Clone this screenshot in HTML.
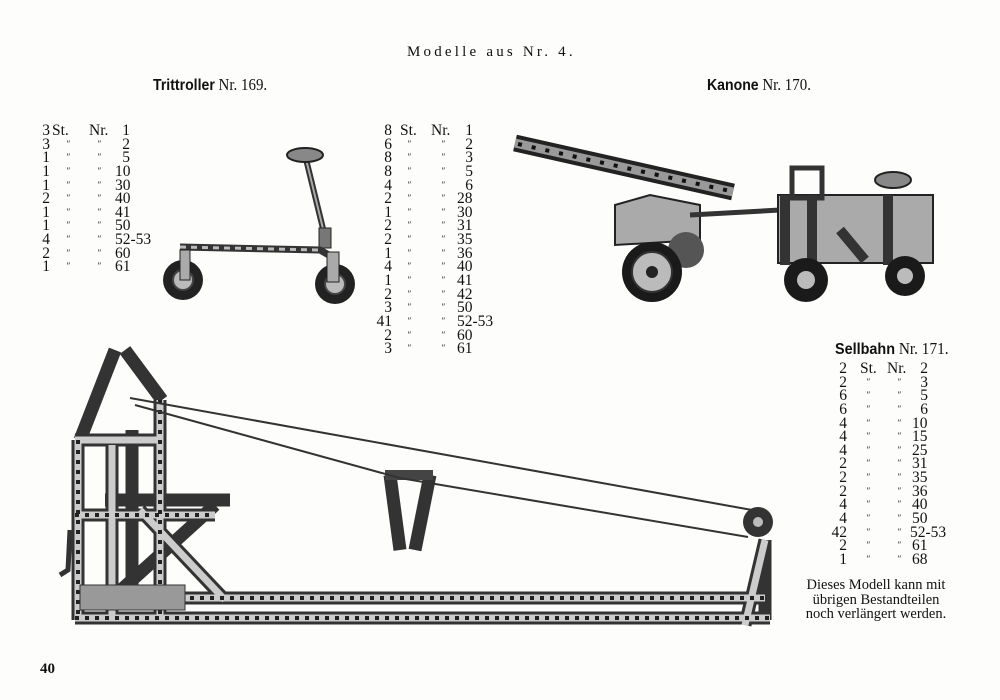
<!DOCTYPE html>
<html><head><meta charset="utf-8">
<style>
body{margin:0;background:#fff;}
#p{position:relative;width:1000px;height:700px;background:#fdfdfc;overflow:hidden;font-family:"Liberation Serif",serif;color:#111;}
.t{position:absolute;white-space:nowrap;}
.l{position:absolute;font-size:15.5px;line-height:13.65px;}
.l div{white-space:nowrap;height:13.65px;position:relative;}
.l span{position:absolute;top:0;}
.q{font-size:9px;font-style:italic;line-height:13px;}
svg{position:absolute;left:0;top:0;}
</style></head><body><div id="p">
<svg width="1000" height="700" viewBox="0 0 1000 700">
<g fill="none" stroke-linecap="butt">
<!-- scooter -->
<line x1="305" y1="155" x2="327" y2="245" stroke="#333" stroke-width="6"/>
<line x1="305" y1="155" x2="327" y2="245" stroke="#aaa" stroke-width="2"/>
<ellipse cx="305" cy="155" rx="18" ry="7" fill="#888" stroke="#222" stroke-width="2"/>
<rect x="319" y="228" width="12" height="20" fill="#777" stroke="#222"/>
<path d="M180 247 L320 250 L334 258" stroke="#333" stroke-width="7"/>
<path d="M180 247 L320 250" stroke="#bbb" stroke-width="3" stroke-dasharray="6 5"/>
<circle cx="183" cy="280" r="20" fill="#222"/><circle cx="183" cy="280" r="10" fill="#bbb" stroke="#444" stroke-width="2"/>
<circle cx="335" cy="284" r="20" fill="#222"/><circle cx="335" cy="284" r="10" fill="#bbb" stroke="#444" stroke-width="2"/>
<rect x="180" y="250" width="10" height="30" fill="#aaa" stroke="#222"/>
<rect x="327" y="252" width="12" height="30" fill="#aaa" stroke="#222"/>
<!-- cannon -->
<line x1="515" y1="143" x2="733" y2="192" stroke="#222" stroke-width="17"/>
<line x1="515" y1="143" x2="733" y2="192" stroke="#999" stroke-width="9"/>
<line x1="518" y1="144" x2="730" y2="191" stroke="#111" stroke-width="4" stroke-dasharray="4 10"/>
<path d="M615 205 L650 195 L700 205 L700 240 L615 245 Z" fill="#aaa" stroke="#222" stroke-width="2"/>
<line x1="690" y1="215" x2="780" y2="210" stroke="#333" stroke-width="5"/>
<circle cx="686" cy="250" r="18" fill="#555"/>
<circle cx="652" cy="272" r="30" fill="#1a1a1a"/><circle cx="652" cy="272" r="20" fill="#bbb" stroke="#333" stroke-width="2"/><circle cx="652" cy="272" r="6" fill="#222"/>
<rect x="778" y="195" width="155" height="68" fill="#aaa" stroke="#222" stroke-width="2"/>
<rect x="792" y="168" width="30" height="30" fill="none" stroke="#333" stroke-width="5"/>
<line x1="785" y1="195" x2="785" y2="265" stroke="#333" stroke-width="10"/>
<line x1="812" y1="195" x2="812" y2="265" stroke="#333" stroke-width="10"/>
<line x1="888" y1="195" x2="888" y2="265" stroke="#333" stroke-width="10"/>
<line x1="840" y1="230" x2="865" y2="260" stroke="#333" stroke-width="10"/>
<ellipse cx="893" cy="180" rx="18" ry="8" fill="#888" stroke="#222" stroke-width="2"/>
<circle cx="806" cy="280" r="22" fill="#1a1a1a"/><circle cx="806" cy="280" r="9" fill="#bbb"/>
<circle cx="905" cy="276" r="20" fill="#1a1a1a"/><circle cx="905" cy="276" r="8" fill="#bbb"/>
<!-- cable car -->
<g stroke="#333" stroke-width="13">
<line x1="78" y1="440" x2="78" y2="620"/>
<line x1="112" y1="445" x2="112" y2="620"/>
<line x1="132" y1="430" x2="132" y2="600"/>
<line x1="160" y1="400" x2="160" y2="620"/>
<line x1="115" y1="350" x2="80" y2="440"/>
<line x1="125" y1="350" x2="162" y2="400"/>
<line x1="75" y1="440" x2="160" y2="440"/>
<line x1="75" y1="515" x2="215" y2="515"/>
<line x1="105" y1="500" x2="230" y2="500"/>
<line x1="140" y1="510" x2="225" y2="600"/>
<line x1="215" y1="505" x2="110" y2="600"/>
<line x1="180" y1="598" x2="765" y2="598"/>
<line x1="75" y1="618" x2="770" y2="618"/>
<line x1="745" y1="625" x2="765" y2="540"/>
<line x1="765" y1="540" x2="765" y2="620"/>
<line x1="390" y1="475" x2="400" y2="550"/>
<line x1="430" y1="475" x2="415" y2="550"/>
</g>
<g stroke="#ccc" stroke-width="7">
<line x1="78" y1="440" x2="78" y2="620"/>
<line x1="112" y1="445" x2="112" y2="620"/>
<line x1="160" y1="400" x2="160" y2="620"/>
<line x1="75" y1="440" x2="160" y2="440"/>
<line x1="75" y1="515" x2="215" y2="515"/>
<line x1="140" y1="510" x2="225" y2="600"/>
<line x1="180" y1="598" x2="765" y2="598"/>
<line x1="75" y1="618" x2="770" y2="618"/>
<line x1="745" y1="625" x2="765" y2="540"/>
</g>
<g stroke="#222" stroke-width="4" stroke-dasharray="4 6">
<line x1="78" y1="440" x2="78" y2="620"/>
<line x1="160" y1="400" x2="160" y2="620"/>
<line x1="180" y1="598" x2="765" y2="598"/>
<line x1="75" y1="618" x2="770" y2="618"/>
<line x1="75" y1="515" x2="215" y2="515"/>
</g>
<rect x="80" y="585" width="105" height="25" fill="#999" stroke="#333"/>
<rect x="385" y="470" width="48" height="10" fill="#444"/>
<path d="M60 575 L68 570 L70 530" stroke="#333" stroke-width="5"/>
<line x1="130" y1="398" x2="752" y2="510" stroke="#333" stroke-width="2"/>
<path d="M135 405 L400 478 L748 537" stroke="#333" stroke-width="2"/>
<circle cx="758" cy="522" r="15" fill="#333"/><circle cx="758" cy="522" r="5" fill="#bbb"/>
</g>
</svg>

<div class="t" style="left:407px;top:44px;font-size:15px;letter-spacing:3.2px;">Modelle aus Nr. 4.</div>
<div class="t" style="left:153px;top:75px;font-size:17px;transform:scaleX(0.88);transform-origin:left;"><b style="font-family:'Liberation Sans',sans-serif;font-size:16px">Trittroller</b> Nr. 169.</div>
<div class="t" style="left:707px;top:75px;font-size:17px;transform:scaleX(0.88);transform-origin:left;"><b style="font-family:'Liberation Sans',sans-serif;font-size:16px">Kanone</b> Nr. 170.</div>
<div class="t" style="left:835px;top:339px;font-size:17px;transform:scaleX(0.9);transform-origin:left;"><b style="font-family:'Liberation Sans',sans-serif;font-size:16px">Sellbahn</b> Nr. 171.</div>

<div class="l" style="left:0;top:124px;width:200px;height:160px">
<div><span style="right:150px">3</span><span style="left:52px">St.</span><span style="left:89px">Nr.</span><span style="right:70px">1</span></div>
<div><span style="right:150px">3</span><span class="q" style="left:66px">″</span><span class="q" style="left:97px">″</span><span style="right:70px">2</span></div>
<div><span style="right:150px">1</span><span class="q" style="left:66px">″</span><span class="q" style="left:97px">″</span><span style="right:70px">5</span></div>
<div><span style="right:150px">1</span><span class="q" style="left:66px">″</span><span class="q" style="left:97px">″</span><span style="left:115px">10</span></div>
<div><span style="right:150px">1</span><span class="q" style="left:66px">″</span><span class="q" style="left:97px">″</span><span style="left:115px">30</span></div>
<div><span style="right:150px">2</span><span class="q" style="left:66px">″</span><span class="q" style="left:97px">″</span><span style="left:115px">40</span></div>
<div><span style="right:150px">1</span><span class="q" style="left:66px">″</span><span class="q" style="left:97px">″</span><span style="left:115px">41</span></div>
<div><span style="right:150px">1</span><span class="q" style="left:66px">″</span><span class="q" style="left:97px">″</span><span style="left:115px">50</span></div>
<div><span style="right:150px">4</span><span class="q" style="left:66px">″</span><span class="q" style="left:97px">″</span><span style="left:115px">52-53</span></div>
<div><span style="right:150px">2</span><span class="q" style="left:66px">″</span><span class="q" style="left:97px">″</span><span style="left:115px">60</span></div>
<div><span style="right:150px">1</span><span class="q" style="left:66px">″</span><span class="q" style="left:97px">″</span><span style="left:115px">61</span></div>
</div>

<div class="l" style="left:300px;top:124px;width:200px;height:240px">
<div><span style="right:108px">8</span><span style="left:100px">St.</span><span style="left:131px">Nr.</span><span style="right:27px">1</span></div>
<div><span style="right:108px">6</span><span class="q" style="left:107px">″</span><span class="q" style="left:141px">″</span><span style="right:27px">2</span></div>
<div><span style="right:108px">8</span><span class="q" style="left:107px">″</span><span class="q" style="left:141px">″</span><span style="right:27px">3</span></div>
<div><span style="right:108px">8</span><span class="q" style="left:107px">″</span><span class="q" style="left:141px">″</span><span style="right:27px">5</span></div>
<div><span style="right:108px">4</span><span class="q" style="left:107px">″</span><span class="q" style="left:141px">″</span><span style="right:27px">6</span></div>
<div><span style="right:108px">2</span><span class="q" style="left:107px">″</span><span class="q" style="left:141px">″</span><span style="left:157px">28</span></div>
<div><span style="right:108px">1</span><span class="q" style="left:107px">″</span><span class="q" style="left:141px">″</span><span style="left:157px">30</span></div>
<div><span style="right:108px">2</span><span class="q" style="left:107px">″</span><span class="q" style="left:141px">″</span><span style="left:157px">31</span></div>
<div><span style="right:108px">2</span><span class="q" style="left:107px">″</span><span class="q" style="left:141px">″</span><span style="left:157px">35</span></div>
<div><span style="right:108px">1</span><span class="q" style="left:107px">″</span><span class="q" style="left:141px">″</span><span style="left:157px">36</span></div>
<div><span style="right:108px">4</span><span class="q" style="left:107px">″</span><span class="q" style="left:141px">″</span><span style="left:157px">40</span></div>
<div><span style="right:108px">1</span><span class="q" style="left:107px">″</span><span class="q" style="left:141px">″</span><span style="left:157px">41</span></div>
<div><span style="right:108px">2</span><span class="q" style="left:107px">″</span><span class="q" style="left:141px">″</span><span style="left:157px">42</span></div>
<div><span style="right:108px">3</span><span class="q" style="left:107px">″</span><span class="q" style="left:141px">″</span><span style="left:157px">50</span></div>
<div><span style="right:108px">41</span><span class="q" style="left:107px">″</span><span class="q" style="left:141px">″</span><span style="left:157px">52-53</span></div>
<div><span style="right:108px">2</span><span class="q" style="left:107px">″</span><span class="q" style="left:141px">″</span><span style="left:157px">60</span></div>
<div><span style="right:108px">3</span><span class="q" style="left:107px">″</span><span class="q" style="left:141px">″</span><span style="left:157px">61</span></div>
</div>

<div class="l" style="left:800px;top:362px;width:200px;height:220px">
<div><span style="right:153px">2</span><span style="left:60px">St.</span><span style="left:87px">Nr.</span><span style="right:72px">2</span></div>
<div><span style="right:153px">2</span><span class="q" style="left:66px">″</span><span class="q" style="left:97px">″</span><span style="right:72px">3</span></div>
<div><span style="right:153px">6</span><span class="q" style="left:66px">″</span><span class="q" style="left:97px">″</span><span style="right:72px">5</span></div>
<div><span style="right:153px">6</span><span class="q" style="left:66px">″</span><span class="q" style="left:97px">″</span><span style="right:72px">6</span></div>
<div><span style="right:153px">4</span><span class="q" style="left:66px">″</span><span class="q" style="left:97px">″</span><span style="left:112px">10</span></div>
<div><span style="right:153px">4</span><span class="q" style="left:66px">″</span><span class="q" style="left:97px">″</span><span style="left:112px">15</span></div>
<div><span style="right:153px">4</span><span class="q" style="left:66px">″</span><span class="q" style="left:97px">″</span><span style="left:112px">25</span></div>
<div><span style="right:153px">2</span><span class="q" style="left:66px">″</span><span class="q" style="left:97px">″</span><span style="left:112px">31</span></div>
<div><span style="right:153px">2</span><span class="q" style="left:66px">″</span><span class="q" style="left:97px">″</span><span style="left:112px">35</span></div>
<div><span style="right:153px">2</span><span class="q" style="left:66px">″</span><span class="q" style="left:97px">″</span><span style="left:112px">36</span></div>
<div><span style="right:153px">4</span><span class="q" style="left:66px">″</span><span class="q" style="left:97px">″</span><span style="left:112px">40</span></div>
<div><span style="right:153px">4</span><span class="q" style="left:66px">″</span><span class="q" style="left:97px">″</span><span style="left:112px">50</span></div>
<div><span style="right:153px">42</span><span class="q" style="left:66px">″</span><span class="q" style="left:97px">″</span><span style="left:110px">52-53</span></div>
<div><span style="right:153px">2</span><span class="q" style="left:66px">″</span><span class="q" style="left:97px">″</span><span style="left:112px">61</span></div>
<div><span style="right:153px">1</span><span class="q" style="left:66px">″</span><span class="q" style="left:97px">″</span><span style="left:112px">68</span></div>
</div>

<div class="t" style="left:800px;top:578px;font-size:14.5px;line-height:14.5px;text-align:center;width:152px;">Dieses Modell kann mit<br>übrigen Bestandteilen<br>noch verlängert werden.</div>
<div class="t" style="left:40px;top:661px;font-size:15px;font-weight:bold;">40</div>
</div></body></html>
